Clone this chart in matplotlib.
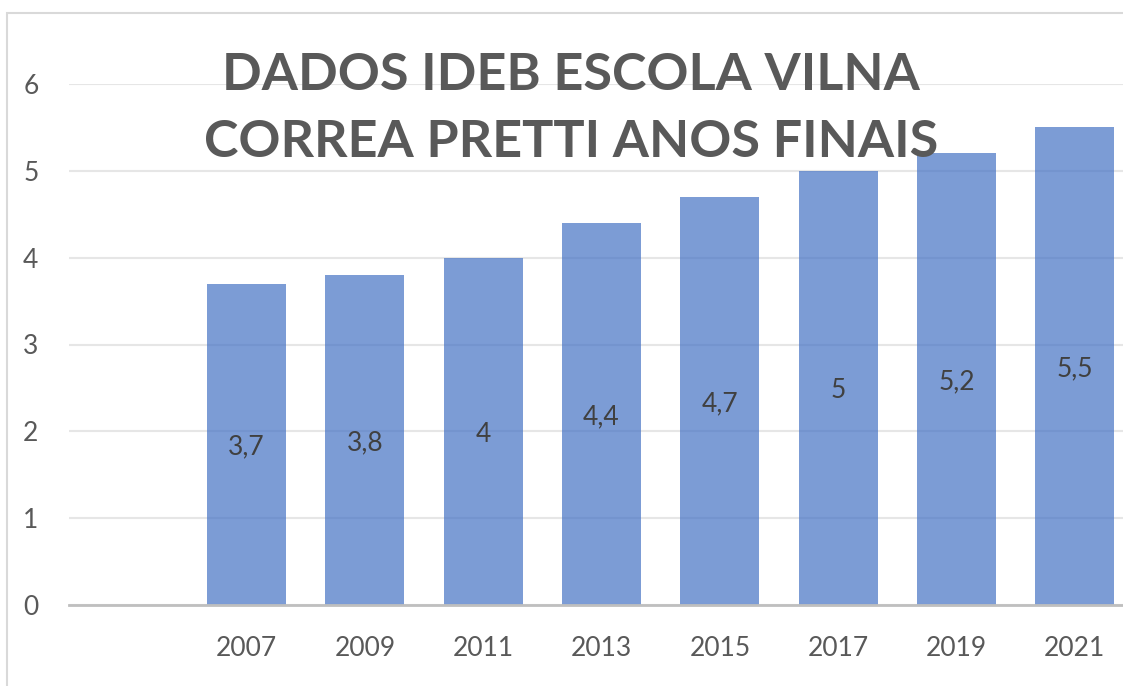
import matplotlib
matplotlib.use("Agg")
import matplotlib.pyplot as plt
from matplotlib.patches import Rectangle

categories = ["", "2007", "2009", "2011", "2013", "2015", "2017", "2019", "2021"]
values = [None, 3.7, 3.8, 4.0, 4.4, 4.7, 5.0, 5.2, 5.5]
labels = ["", "3,7", "3,8", "4", "4,4", "4,7", "5", "5,2", "5,5"]
yticks = [0, 1, 2, 3, 4, 5, 6]
title_lines = ["DADOS IDEB ESCOLA VILNA", "CORREA PRETTI ANOS FINAIS"]

W, H = 1123, 686
fig = plt.figure(figsize=(W / 100, H / 100), dpi=100)
plt.rcParams['font.family'] = ['Lato', 'DejaVu Sans']

# outer chart frame (extends past right/bottom edges)
fig.patches.append(Rectangle((7 / W, -0.05), 1.2, (H - 13) / H + 0.05,
                             transform=fig.transFigure, fill=False,
                             edgecolor='#D9D9D9', linewidth=1.5))

ax = fig.add_axes([69 / W, (H - 605) / H, 1 - 69 / W, (605 - 84) / H])
x = list(range(len(categories)))
vals = [v if v is not None else 0 for v in values]
ax.bar(x, vals, width=0.667, color='#4472C4', alpha=0.7, zorder=3, linewidth=0)

for xi, v, lab in zip(x, vals, labels):
    if lab:
        ax.annotate(lab, (xi, v / 2), xytext=(0, -2), textcoords='offset points',
                    ha='center', va='center', fontsize=19,
                    color='#404040', zorder=5)

ax.set_ylim(0, 6)
ax.set_xlim(-0.5, 8.5 - 11 / 118.4)
ax.set_yticks(yticks)
ax.set_xticks(x)
ax.set_xticklabels(categories)
ax.tick_params(axis='both', length=0, labelsize=19, labelcolor='#595959')
ax.tick_params(axis='x', pad=22)
ax.tick_params(axis='y', pad=22)
ax.grid(axis='y', color='#E6E6E6', linewidth=1.5, zorder=4)
ax.set_axisbelow(False)
for s in ['top', 'right', 'left']:
    ax.spines[s].set_visible(False)
ax.spines['bottom'].set_color('#BFBFBF')
ax.spines['bottom'].set_linewidth(2)
ax.spines['bottom'].set_zorder(6)

for line, base in zip(title_lines, [90, 157]):
    fig.text(571 / W, 1 - base / H, line, ha='center', va='baseline', fontsize=37.5,
             fontweight='bold', color='#595959', zorder=10)

fig.savefig("out.png", dpi=100)
